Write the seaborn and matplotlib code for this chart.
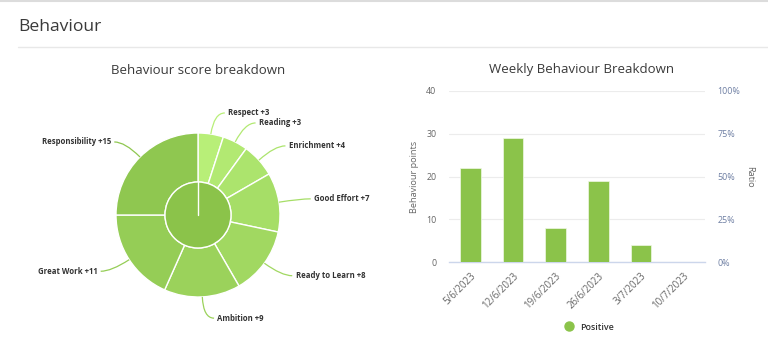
import numpy as np
import matplotlib
matplotlib.use("Agg")
import matplotlib.pyplot as plt
from matplotlib.lines import Line2D
from matplotlib.path import Path
from matplotlib.patches import PathPatch
import seaborn as sns
import pandas as pd

# ---- data ----
categories = ["Respect", "Reading", "Enrichment", "Good Effort", "Ready to Learn",
              "Ambition", "Great Work", "Responsibility"]
scores = [3, 3, 4, 7, 8, 9, 11, 15]
weeks = ["5/6/2023", "12/6/2023", "19/6/2023", "26/6/2023", "3/7/2023", "10/7/2023"]
positive = [22, 29, 8, 19, 4, 0]
left_ticks = [0, 10, 20, 30, 40]
ratio_ticks = [0, 0.25, 0.5, 0.75, 1.0]
ratio_labels = ["0%", "25%", "50%", "75%", "100%"]

sns.set_theme(style="white")
plt.rcParams['font.family'] = ['Open Sans', 'DejaVu Sans']

W, H = 768, 352
fig = plt.figure(figsize=(W / 100, H / 100), dpi=100)
fig.patch.set_facecolor("white")


def fx(px):
    return px / W


def fy(py):
    return 1 - py / H


# page header
fig.add_artist(Line2D([0, 1], [fy(1), fy(1)], color="#dcdcdc", lw=1.5))
fig.text(fx(18), fy(27), "Behaviour", fontsize=12.6, color="#3a3a3a", ha="left", va="center")
fig.add_artist(Line2D([fx(18), 1], [fy(47), fy(47)], color="#e8e8e8", lw=1))
fig.text(fx(198), fy(70), "Behaviour score breakdown", fontsize=9.5, color="#3a3a3a",
         ha="center", va="center")
fig.text(fx(582), fy(70), "Weekly Behaviour Breakdown", fontsize=9.5, color="#3a3a3a",
         ha="center", va="center")

# ---- sunburst ----
R = 82.0
size = 280
cx, cy = 198, 215
axp = fig.add_axes([fx(cx - size / 2), fy(cy + size / 2), size / W, size / H])
outer_colors = sns.blend_palette(["#b8ef78", "#8fc750"], len(scores))
inner_color = "#8bc34a"
wedges, _ = axp.pie(scores, radius=1.0, startangle=90, counterclock=False,
                    colors=outer_colors,
                    wedgeprops=dict(width=1 - 33 / R, edgecolor="white", linewidth=1.0))
axp.pie([sum(scores)], radius=33 / R, startangle=90, counterclock=False,
        colors=[inner_color], wedgeprops=dict(edgecolor="white", linewidth=1.0))
axp.plot([0, 0], [0, 33 / R], color="white", lw=1.0, zorder=5)
lim = size / 2 / R
axp.set_xlim(-lim, lim)
axp.set_ylim(-lim, lim)
axp.axis("off")

for w, name, val, col in zip(wedges, categories, scores, outer_colors):
    a = np.deg2rad((w.theta1 + w.theta2) / 2)
    d = np.array([np.cos(a), np.sin(a)])
    p0 = d * 1.0
    p1 = d * 1.26
    s = 1 if d[0] >= 0 else -1
    p2 = p1 + np.array([s * 0.13, 0])
    path = Path([p0, p1, p2], [Path.MOVETO, Path.CURVE3, Path.CURVE3])
    axp.add_patch(PathPatch(path, fill=False, edgecolor=col, lw=0.9))
    axp.text(p2[0] + s * 0.04, p2[1], f"{name} +{val}", fontsize=5.6, fontweight="bold",
             color="#333333", ha="left" if s > 0 else "right", va="center")

# ---- weekly bars ----
axb = fig.add_axes([fx(449), fy(262), fx(705) - fx(449), fy(91) - fy(262)])
df = pd.DataFrame({"week": weeks, "points": positive})
sns.barplot(data=df, x="week", y="points", color="#8bc34a", saturation=1, width=0.48,
            ax=axb, zorder=3, edgecolor="#f0f8e6", linewidth=0.5)
axb.set_ylim(0, 40)
axb.set_xlim(-0.5, len(weeks) - 0.5)
axb.set_yticks(left_ticks)
axb.yaxis.grid(True, color="#ececec", lw=0.8)
axb.set_axisbelow(True)
for sp in ["top", "right", "left"]:
    axb.spines[sp].set_visible(False)
axb.spines["bottom"].set_color("#ccd6eb")
axb.spines["bottom"].set_linewidth(1)
axb.tick_params(axis="y", length=0, labelsize=6.4, labelcolor="#666666", pad=9)
axb.tick_params(axis="x", which="major", length=0, labelsize=7, labelcolor="#666666", pad=6)
axb.set_xticks(np.arange(len(weeks) + 1) - 0.5, minor=True)
axb.tick_params(axis="x", which="minor", length=5, color="#ccd6eb", width=1)
plt.setp(axb.get_xticklabels(), rotation=45, ha="right", rotation_mode="anchor")
axb.set_xlabel("")
axb.set_ylabel("Behaviour points", fontsize=6.6, color="#666666", labelpad=5)

axr = axb.twinx()
axr.set_ylim(0, 1)
axr.set_yticks(ratio_ticks)
axr.set_yticklabels(ratio_labels)
for sp in axr.spines.values():
    sp.set_visible(False)
axr.tick_params(axis="y", length=0, labelsize=6.4, labelcolor="#6e7fa3", pad=9)
axr.set_ylabel("Ratio", fontsize=6.6, color="#666666", rotation=270, labelpad=10)

handle = Line2D([], [], marker="o", linestyle="", markersize=6.5,
                markerfacecolor="#8bc34a", markeredgecolor="#8bc34a")
leg = fig.legend([handle], ["Positive"], loc="center", bbox_to_anchor=(fx(587), fy(327)),
                 frameon=False, handletextpad=0.3, prop=dict(size=6.4, weight="semibold"))
for t in leg.get_texts():
    t.set_color("#333333")

fig.savefig("out.png", dpi=100, facecolor="white")
